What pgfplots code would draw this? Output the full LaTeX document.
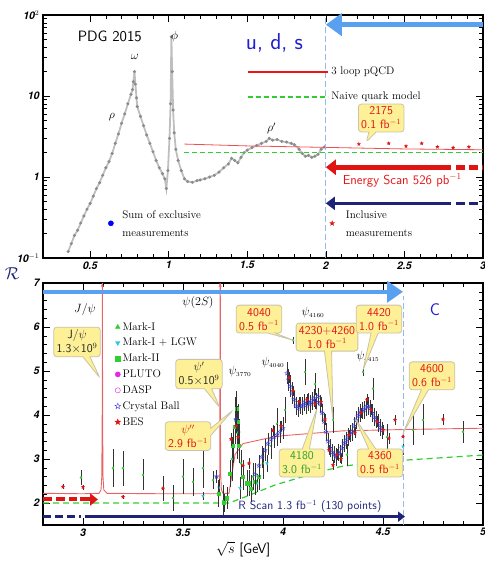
\documentclass[border=0pt]{standalone}
\usepackage{pgfplots}
\pgfplotsset{compat=1.18}
\usepackage{fontspec}
\newfontfamily\heros{TeX Gyre Heros}
\usetikzlibrary{arrows.meta,shapes.callouts}
\definecolor{lblue}{RGB}{90,160,240}
\definecolor{vline}{RGB}{150,185,235}
\definecolor{navy}{RGB}{30,35,120}
\definecolor{cfill}{RGB}{253,240,150}
\definecolor{cdraw}{RGB}{200,195,170}
\definecolor{cred}{RGB}{225,20,20}
\definecolor{lred}{RGB}{240,20,20}
\definecolor{cgreen}{RGB}{50,205,50}
\definecolor{dgreen}{RGB}{50,160,50}
\definecolor{ccyan}{RGB}{40,200,220}
\definecolor{cmag}{RGB}{230,40,230}
\definecolor{cblue}{RGB}{60,60,220}
\definecolor{tblue}{RGB}{30,30,210}
\definecolor{pinkred}{RGB}{232,100,100}
\pgfdeclareplotmark{ostar}{%
  \pgfpathmoveto{\pgfpointpolar{90}{\pgfplotmarksize}}%
  \pgfpathlineto{\pgfpointpolar{126}{0.42\pgfplotmarksize}}%
  \pgfpathlineto{\pgfpointpolar{162}{\pgfplotmarksize}}%
  \pgfpathlineto{\pgfpointpolar{198}{0.42\pgfplotmarksize}}%
  \pgfpathlineto{\pgfpointpolar{234}{\pgfplotmarksize}}%
  \pgfpathlineto{\pgfpointpolar{270}{0.42\pgfplotmarksize}}%
  \pgfpathlineto{\pgfpointpolar{306}{\pgfplotmarksize}}%
  \pgfpathlineto{\pgfpointpolar{342}{0.42\pgfplotmarksize}}%
  \pgfpathlineto{\pgfpointpolar{18}{\pgfplotmarksize}}%
  \pgfpathlineto{\pgfpointpolar{54}{0.42\pgfplotmarksize}}%
  \pgfpathclose\pgfusepathqstroke}
\pgfdeclareplotmark{fstar}{%
  \pgfpathmoveto{\pgfpointpolar{90}{\pgfplotmarksize}}%
  \pgfpathlineto{\pgfpointpolar{126}{0.42\pgfplotmarksize}}%
  \pgfpathlineto{\pgfpointpolar{162}{\pgfplotmarksize}}%
  \pgfpathlineto{\pgfpointpolar{198}{0.42\pgfplotmarksize}}%
  \pgfpathlineto{\pgfpointpolar{234}{\pgfplotmarksize}}%
  \pgfpathlineto{\pgfpointpolar{270}{0.42\pgfplotmarksize}}%
  \pgfpathlineto{\pgfpointpolar{306}{\pgfplotmarksize}}%
  \pgfpathlineto{\pgfpointpolar{342}{0.42\pgfplotmarksize}}%
  \pgfpathlineto{\pgfpointpolar{18}{\pgfplotmarksize}}%
  \pgfpathlineto{\pgfpointpolar{54}{0.42\pgfplotmarksize}}%
  \pgfpathclose\pgfusepathqfillstroke}
\tikzset{
  mycallout/.style={rectangle callout, fill=cfill, draw=cdraw, line width=0.8pt,
    rounded corners=3pt, align=center, font=\sffamily\fontsize{12}{14}\selectfont, inner sep=2.8pt},
}
\pgfplotsset{
  panel/.style={scale only axis, width=440pt, clip mode=individual,
    tick align=inside, major tick length=7pt, minor tick length=4pt,
    axis line style={line width=1.1pt}, tick style={line width=0.6pt, black},
    ticklabel style={font=\heros\bfseries\itshape\fontsize{10.5}{12}\selectfont},
    /pgf/number format/assume math mode=true},
  ebars/.style={error bars/.cd, y dir=both, y explicit, error mark=none,
    error bar style={black!80, line width=0.5pt}},
}
\begin{document}
\begin{tikzpicture}
\useasboundingbox (0,0) rectangle (485pt,563pt);
% ================= TOP PANEL =================
\begin{axis}[panel, at={(43pt,305pt)}, anchor=south west, height=243pt,
  xmin=0.2, xmax=3, ymin=0.1, ymax=100, ymode=log,
  xtick={0.5,1,1.5,2,2.5,3}, minor x tick num=4,
  ytick={0.1,1,10,100}, yticklabels={10$^{-1}$,1,10,10$^{2}$},
  legend style={at={(0.464,0.795)}, anchor=north west, draw=none, fill=none,
    font=\fontsize{11}{13}\selectfont, row sep=12pt, inner sep=0pt},
  legend cell align=left,
  legend image code/.code={\draw[#1] (0pt,0pt) -- (80pt,0pt);}]
\addplot[forget plot, gray!50, line width=1.8pt, mark=*, mark size=0.45pt, mark options={black!45}] table[x=x,y=y] {
x y
0.36 0.12
0.38 0.15
0.40 0.19
0.42 0.22
0.44 0.27
0.46 0.33
0.48 0.40
0.50 0.47
0.52 0.58
0.54 0.72
0.56 0.85
0.58 1.05
0.60 1.30
0.62 1.55
0.64 1.95
0.66 2.6
0.68 3.4
0.70 4.6
0.72 6.0
0.74 8.0
0.76 10.5
0.77 12
0.775 15
0.782 20
0.788 14
0.795 9.5
0.80 7.4
0.82 5.6
0.84 4.3
0.86 3.3
0.88 2.6
0.90 2.05
0.92 1.6
0.94 1.3
0.96 1.1
0.975 0.95
0.985 0.72
0.995 1.2
1.005 3.0
1.012 8
1.017 54
1.022 20
1.028 6.7
1.035 3.5
1.045 2.2
1.06 1.6
1.08 1.2
1.10 0.95
1.12 0.88
1.15 0.86
1.18 0.9
1.20 0.92
1.23 0.95
1.26 1.0
1.29 1.05
1.32 1.15
1.35 1.3
1.38 1.45
1.40 1.7
1.42 1.6
1.44 1.5
1.46 1.75
1.48 2.0
1.50 2.15
1.53 2.3
1.56 2.45
1.59 2.6
1.62 2.75
1.64 3.0
1.66 2.85
1.69 2.9
1.72 2.75
1.75 2.7
1.78 2.6
1.80 2.5
1.83 2.2
1.85 1.95
1.87 1.8
1.89 1.85
1.91 1.75
1.93 1.8
1.95 1.9
1.97 2.2
1.99 2.35
};
\addplot[forget plot, pinkred!80!red, line width=0.8pt] coordinates {(1.1,2.55) (1.5,2.42) (2.0,2.32) (2.5,2.22) (3.0,2.17)};
\addplot[forget plot, cgreen, line width=1.2pt, dash pattern=on 5pt off 3pt] coordinates {(1.1,2) (3.0,2)};
\addplot[forget plot, only marks, mark=fstar, mark size=1.6pt, cred] coordinates {(2.21,2.55) (2.40,2.6) (2.51,2.4) (2.61,2.6) (2.71,2.35) (2.81,2.3) (2.91,2.35)};
\addplot[forget plot, only marks, mark=*, mark size=2.6pt, blue] coordinates {(0.632,0.268)};
\addplot[forget plot, only marks, mark=fstar, mark size=2.4pt, cred] coordinates {(2.04,0.268)};
\addlegendimage{draw=lred, line width=2pt}
\addlegendentry{3 loop pQCD}
\addlegendimage{draw=cgreen, line width=1.6pt, dash pattern=on 5pt off 3pt}
\addlegendentry{Naive quark model}
% guide lines and arrows
\draw[vline, line width=0.8pt, dash pattern=on 6pt off 3pt] (axis cs:2,0.1) -- (axis cs:2,100);
\draw[lblue, line width=4.5pt, -{Triangle[length=16pt,width=22pt]}] (axis cs:3,76) -- (axis cs:2,76);
\draw[cred, line width=5pt, -{Triangle[length=10pt,width=15pt]}] (axis cs:2.797,1.32) -- (axis cs:2,1.32);
\draw[cred, line width=5pt, dash pattern=on 9pt off 4pt] (axis cs:2.83,1.32) -- (axis cs:3,1.32);
\draw[navy, line width=3.5pt, -{Triangle[length=9pt,width=13pt]}] (axis cs:2.797,0.473) -- (axis cs:2,0.473);
\draw[navy, line width=3.5pt, dash pattern=on 9pt off 4pt] (axis cs:2.83,0.473) -- (axis cs:3,0.473);
% texts
\node[font=\sffamily\fontsize{15}{17}\selectfont] at (axis cs:0.625,54) {PDG 2015};
\node[text=tblue, font=\sffamily\fontsize{23}{26}\selectfont] at (axis cs:1.673,45.5) {u, d, s};
\node[font=\fontsize{12}{14}\selectfont] at (axis cs:0.784,30.5) {$\omega$};
\node[font=\fontsize{12}{14}\selectfont] at (axis cs:1.038,54) {$\phi$};
\node[font=\fontsize{12}{14}\selectfont] at (axis cs:0.638,5.5) {$\rho$};
\node[font=\fontsize{12}{14}\selectfont] at (axis cs:1.654,4.0) {$\rho'$};
\node[text=cred, font=\sffamily\fontsize{13}{15}\selectfont] at (axis cs:2.486,0.91) {Energy Scan 526 pb$^{-1}$};
\node[anchor=west, align=left, font=\fontsize{11}{18}\selectfont] at (axis cs:0.683,0.268) {Sum of exclusive\\measurements};
\node[anchor=west, align=left, font=\fontsize{11}{18}\selectfont] at (axis cs:2.105,0.268) {Inclusive\\measurements};
\node[mycallout, text=cred, callout absolute pointer={(axis cs:2.257,2.70)}] at (axis cs:2.352,5.35) {2175\\0.1 fb$^{-1}$};
\end{axis}
% ================= BOTTOM PANEL =================
\begin{axis}[panel, at={(43pt,38pt)}, anchor=south west, height=242pt,
  xmin=2.8, xmax=5, ymin=1.5, ymax=7,
  xtick={3,3.5,4,4.5,5}, minor x tick num=4,
  ytick={2,3,4,5,6,7}, minor y tick num=4,
  xlabel={$\sqrt{s}$ [GeV]},
  xlabel style={font=\sffamily\fontsize{14}{16}\selectfont, at={(axis description cs:0.455,-0.1)}, anchor=center},
  legend style={at={(0.163,0.846)}, anchor=north west, draw=none, fill=none,
    font=\fontsize{11}{13}\selectfont, row sep=2.6pt, inner sep=0pt},
  legend cell align=left]
% theory curves
\addplot[forget plot, pinkred, line width=0.9pt] coordinates {
(2.8,2.22) (3.0,2.21) (3.08,2.22) (3.09,2.3) (3.094,2.6) (3.096,4.0) (3.097,8) (3.098,4.0) (3.100,2.6) (3.104,2.3) (3.12,2.22)
(3.4,2.21) (3.67,2.21) (3.680,2.3) (3.684,2.7) (3.686,8) (3.688,2.7) (3.692,2.3) (3.70,2.22) (3.73,2.22)
(3.76,3.1) (3.8,3.35) (3.9,3.45) (3.95,3.5) (4.0,3.53) (4.3,3.64) (4.6,3.67) (5.0,3.70)};
\addplot[forget plot, cgreen, line width=1.2pt, dash pattern=on 6pt off 4pt] coordinates {
(2.8,2.0) (3.73,2.0) (3.8,2.12) (3.9,2.3) (3.96,2.41) (4.16,2.68) (4.29,2.83) (4.45,2.92) (4.63,2.98) (5.0,3.09)};
% data
\addplot[forget plot, only marks, mark=*, mark size=1.0pt, cgreen, ebars] table[x=x,y=y,y error=e] {
x y e
2.99 2.58 0.18
3.15 2.79 0.43
3.20 2.79 0.40
3.30 2.64 0.35
3.40 2.33 0.28
3.45 2.11 0.30
3.50 2.60 0.40
3.55 2.48 0.32
3.60 2.79 0.45
3.65 2.52 0.20
3.70 2.05 0.35
3.745 3.0 0.5
3.76 3.9 0.5
3.77 3.6 0.6
3.79 2.9 0.3
3.85 2.6 0.3
3.90 2.9 0.35
3.94 3.3 0.3
3.97 3.8 0.35
4.01 4.11 0.3
4.05 5.70 0.08
4.11 4.98 0.30
4.16 4.70 0.25
4.25 3.89 0.3
4.32 3.10 0.25
4.40 4.98 0.10
4.45 4.60 0.25
4.52 3.50 0.3
4.65 3.66 0.35
4.70 3.89 0.35
4.90 3.62 0.25
};
\addplot[forget plot, only marks, mark=triangle*, mark options={rotate=180}, mark size=1.5pt, ccyan, ebars] table[x=x,y=y,y error=e] {
x y e
3.60 2.16 0.10
3.68 2.35 0.20
3.735 2.68 0.25
3.785 2.34 0.25
3.80 2.60 0.20
3.87 2.45 0.20
3.78 3.60 0.30
3.92 2.90 0.20
4.60 3.28 0.20
};
\addplot[forget plot, only marks, mark=square*, mark size=1.6pt, cgreen, ebars] table[x=x,y=y,y error=e] {
x y e
3.677 2.22 0.3
3.705 2.00 0.2
3.72 2.11 0.25
3.735 2.67 0.3
3.75 3.30 0.4
3.76 3.73 0.4
3.768 4.15 0.4
3.775 3.85 0.4
3.78 3.30 0.4
3.80 2.60 0.3
3.82 2.45 0.3
3.83 2.45 0.3
3.84 2.33 0.3
3.86 2.49 0.3
3.88 2.60 0.3
};
\addplot[forget plot, only marks, mark=ostar, mark size=2.2pt, cblue, ebars] table[x=x,y=y,y error=e] {
x y e
3.668 2.6 0.15
3.765 3.9 0.3
3.86 2.65 0.25
3.88 2.85 0.25
3.895 3.05 0.25
3.91 3.2 0.25
3.925 3.35 0.25
3.94 3.45 0.25
3.955 3.5 0.25
3.97 3.55 0.25
3.985 3.62 0.25
4.0 3.7 0.25
4.02 4.95 0.25
4.028 4.80 0.25
4.035 4.65 0.25
4.045 4.5 0.25
4.055 4.35 0.2
4.065 4.2 0.2
4.075 4.15 0.2
4.085 4.22 0.2
4.095 4.2 0.2
4.105 4.28 0.2
4.115 4.22 0.2
4.125 4.3 0.2
4.135 4.25 0.2
4.145 4.32 0.2
4.155 4.38 0.2
4.165 4.3 0.2
4.175 4.42 0.2
4.185 4.25 0.2
4.195 4.05 0.2
4.205 3.85 0.2
4.215 3.62 0.2
4.225 3.4 0.2
4.235 3.25 0.2
4.245 3.15 0.2
4.255 3.1 0.2
4.265 3.05 0.2
4.275 3.15 0.2
4.285 3.12 0.2
4.295 3.25 0.2
4.305 3.35 0.2
4.315 3.42 0.2
4.325 3.5 0.2
4.335 3.58 0.2
4.345 3.62 0.2
4.355 3.75 0.2
4.365 3.88 0.2
4.375 3.98 0.2
4.385 4.05 0.2
4.395 4.1 0.2
4.405 4.12 0.2
4.415 4.18 0.2
4.425 4.2 0.2
4.435 4.15 0.2
4.445 4.05 0.2
4.455 3.95 0.2
4.465 3.9 0.2
4.475 3.82 0.2
4.485 3.72 0.2
4.495 3.65 0.2
};
\addplot[forget plot, only marks, mark=fstar, mark size=1.7pt, cred, ebars] table[x=x,y=y,y error=e] {
x y e
2.90 2.37 0.06
3.00 2.36 0.06
3.20 2.14 0.05
3.40 2.33 0.06
3.74 3.45 0.15
3.765 3.75 0.15
3.775 3.5 0.15
3.80 2.85 0.12
3.83 2.9 0.12
3.95 3.65 0.12
3.99 3.75 0.12
4.03 4.85 0.12
4.05 4.55 0.12
4.08 4.3 0.12
4.12 4.35 0.12
4.16 4.25 0.12
4.19 4.3 0.12
4.21 3.9 0.12
4.23 3.2 0.12
4.25 2.86 0.12
4.27 3.1 0.12
4.29 3.0 0.12
4.33 3.55 0.12
4.36 3.6 0.12
4.39 4.05 0.12
4.42 4.35 0.12
4.44 4.12 0.12
4.47 3.85 0.12
4.50 3.66 0.12
4.53 3.47 0.12
4.56 3.89 0.12
4.60 3.51 0.12
4.80 3.90 0.12
};
% legend
\addlegendimage{only marks, mark=triangle*, mark size=2.6pt, cgreen}
\addlegendentry{Mark-I}
\addlegendimage{only marks, mark=triangle*, mark options={rotate=180}, mark size=2.6pt, ccyan}
\addlegendentry{Mark-I + LGW}
\addlegendimage{only marks, mark=square*, mark size=2.3pt, cgreen}
\addlegendentry{Mark-II}
\addlegendimage{only marks, mark=*, mark size=2.6pt, cmag}
\addlegendentry{PLUTO}
\addlegendimage{only marks, mark=o, mark size=2.6pt, cmag}
\addlegendentry{DASP}
\addlegendimage{only marks, mark=ostar, mark size=3pt, cblue}
\addlegendentry{Crystal Ball}
\addlegendimage{only marks, mark=fstar, mark size=3pt, cred}
\addlegendentry{BES}
% lines and arrows
\draw[pinkred, line width=0.9pt, -{Stealth[length=4pt]}] (axis cs:3.097,6.8) -- (axis cs:3.097,7.0);
\draw[pinkred, line width=0.9pt, -{Stealth[length=4pt]}] (axis cs:3.686,6.8) -- (axis cs:3.686,7.0);
\draw[vline, line width=0.8pt, dash pattern=on 6pt off 3pt] (axis cs:4.6,1.5) -- (axis cs:4.6,6.7);
\draw[lblue, line width=4.5pt, -{Triangle[length=16pt,width=21pt]}] (axis cs:2.8,6.8) -- (axis cs:4.6,6.8);
\draw[cred, line width=4pt, dash pattern=on 9pt off 4pt] (axis cs:2.8,2.08) -- (axis cs:2.97,2.08);
\draw[cred, line width=4pt, -{Triangle[length=8pt,width=12pt]}] (axis cs:2.985,2.08) -- (axis cs:3.075,2.08);
\draw[navy, line width=3.5pt, dash pattern=on 8pt off 4pt] (axis cs:2.8,1.69) -- (axis cs:2.99,1.69);
\draw[navy, line width=3.5pt, -{Triangle[length=7pt,width=10pt]}] (axis cs:3.01,1.69) -- (axis cs:4.61,1.69);
% labels
\node[text=navy, font=\fontsize{17}{19}\selectfont] at (rel axis cs:-0.07,1.04) {$\mathcal{R}$};
\node[font=\fontsize{13}{15}\selectfont] at (axis cs:3.01,6.39) {$J/\psi$};
\node[font=\fontsize{13}{15}\selectfont] at (axis cs:3.575,6.55) {$\psi(2S)$};
\node[font=\fontsize{12}{14}\selectfont] at (axis cs:3.785,4.98) {$\psi_{\scriptscriptstyle 3770}$};
\node[font=\fontsize{12}{14}\selectfont] at (axis cs:3.95,5.2) {$\psi_{\scriptscriptstyle 4040}$};
\node[font=\fontsize{12}{14}\selectfont] at (axis cs:4.15,6.32) {$\psi_{\scriptscriptstyle 4160}$};
\node[font=\fontsize{12}{14}\selectfont] at (axis cs:4.425,5.32) {$\psi_{\scriptscriptstyle 4415}$};
\node[text=tblue, font=\sffamily\fontsize{17}{19}\selectfont] at (axis cs:4.76,6.39) {C};
\node[text=navy, font=\sffamily\fontsize{12}{14}\selectfont] at (axis cs:4.135,1.92) {R Scan 1.3 fb$^{-1}$ (130 points)};
% callouts
\node[mycallout, text=black!85, callout absolute pointer={(axis cs:3.085,4.84)}] at (axis cs:2.97,5.66) {J/$\psi$\\1.3$\times$10$^{9}$};
\node[mycallout, text=black!85, callout absolute pointer={(axis cs:3.685,4.16)}] at (axis cs:3.58,4.93) {$\psi'$\\0.5$\times$10$^{9}$};
\node[mycallout, text=cred, callout absolute pointer={(axis cs:3.75,4.11)}] at (axis cs:3.525,3.52) {$\psi''$\\2.9 fb$^{-1}$};
\node[mycallout, text=cred, callout absolute pointer={(axis cs:4.05,5.70)}] at (axis cs:3.88,6.18) {4040\\0.5 fb$^{-1}$};
\node[mycallout, text=cred, callout absolute pointer={(axis cs:4.25,3.89)}] at (axis cs:4.22,5.77) {4230+4260\\1.0 fb$^{-1}$};
\node[mycallout, text=cred, callout absolute pointer={(axis cs:4.40,5.02)}] at (axis cs:4.48,6.18) {4420\\1.0 fb$^{-1}$};
\node[mycallout, text=cred, callout absolute pointer={(axis cs:4.60,3.59)}] at (axis cs:4.745,4.89) {4600\\0.6 fb$^{-1}$};
\node[mycallout, text=dgreen, callout absolute pointer={(axis cs:4.17,4.15)}] at (axis cs:4.095,2.91) {4180\\3.0 fb$^{-1}$};
\node[mycallout, text=cred, callout absolute pointer={(axis cs:4.36,3.93)}] at (axis cs:4.485,2.91) {4360\\0.5 fb$^{-1}$};
\end{axis}
\end{tikzpicture}
\end{document}
